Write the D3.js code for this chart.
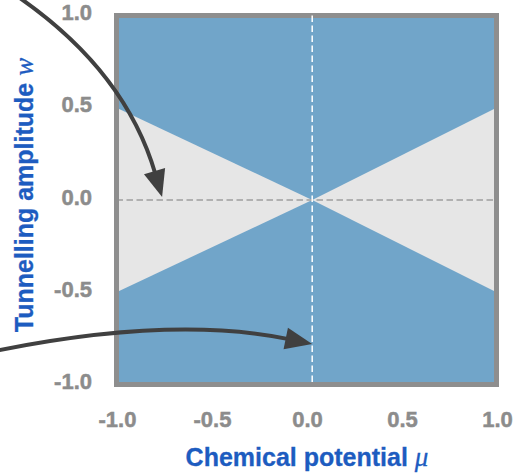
<!DOCTYPE html>
<html>
<head>
<meta charset="utf-8">
<script src="https://cdn.jsdelivr.net/npm/d3@7"></script>
<style>
    body { margin: 0; background: #fff; }
    .tick-label { font-family: "Liberation Sans", Arial, sans-serif; font-weight: 700; font-size: 22px; fill: #8c8c8c; stroke: #8c8c8c; stroke-width: 0.5px; }
    .axis-title { font-family: "Liberation Sans", Arial, sans-serif; font-weight: 700; font-size: 25px; fill: #1d5cc0; stroke: #1d5cc0; stroke-width: 0.3px; }
    .math { font-family: "Liberation Serif", serif; font-style: italic; font-weight: 400; font-size: 27px; }
</style>
</head>
<body>
<svg id="chart" width="513" height="473"></svg>
<script>
// phase diagram values
const xTicks = [-1, -0.5, 0, 0.5, 1]
const yTicks = [-1, -0.5, 0, 0.5, 1]
const crossing = [0.03, 0]
const leftWedge = [[-1, 0.5], [0.03, 0], [-1, -0.5]]
const rightWedge = [[1, 0.5], [0.03, 0], [1, -0.5]]
// annotation arrows: start, control, tip (data coords)
const arrowTop = [[-1.53, 1.11], [-0.955, 0.705], [-0.76, 0.016]]
const arrowBottom = [[-1.665, -0.824], [-0.718, -0.623], [0.03, -0.78]]

const svg = d3.select("#chart")
const fmt = v => d3.format(".1f")(v).replace("\u2212", "-")

const x = d3.scaleLinear().domain([-1, 1]).range([116.5, 496.5])
const y = d3.scaleLinear().domain([-1, 1]).range([384.5, 15.5])

const blue = "#71a5c9"
const grey = "#e6e6e6"

svg.append("rect")
    .attr("x", x(-1)).attr("y", y(1))
    .attr("width", x(1) - x(-1)).attr("height", y(-1) - y(1))
    .attr("fill", blue)

const line = d3.line().x(d => x(d[0])).y(d => y(d[1]))
svg.selectAll("path.wedge")
    .data([leftWedge, rightWedge])
    .enter().append("path")
    .attr("class", "wedge")
    .attr("d", d => line(d) + "Z")
    .attr("fill", grey)

// horizontal guide
svg.append("line")
    .attr("x1", x(-1)).attr("x2", x(1))
    .attr("y1", y(crossing[1])).attr("y2", y(crossing[1]))
    .attr("stroke", "#9e9e9e").attr("stroke-width", 1.5)
    .attr("stroke-dasharray", "6.5,3.5")

// frame
svg.append("rect")
    .attr("x", x(-1)).attr("y", y(1))
    .attr("width", x(1) - x(-1)).attr("height", y(-1) - y(1))
    .attr("fill", "none")
    .attr("stroke", "#8e8e8e").attr("stroke-width", 5)

// vertical guide
svg.append("line")
    .attr("x1", x(crossing[0])).attr("x2", x(crossing[0]))
    .attr("y1", y(1)).attr("y2", y(-1))
    .attr("stroke", "#fff").attr("stroke-width", 1.5)
    .attr("stroke-dasharray", "6.5,3.5")

// tick labels
svg.selectAll("text.xt")
    .data(xTicks)
    .enter().append("text")
    .attr("class", "tick-label xt")
    .attr("x", d => x(d) + 1)
    .attr("y", 427)
    .attr("text-anchor", "middle")
    .text(fmt)

svg.selectAll("text.yt")
    .data(yTicks)
    .enter().append("text")
    .attr("class", "tick-label yt")
    .attr("x", 92)
    .attr("y", d => y(d) + 4.5)
    .attr("text-anchor", "end")
    .text(fmt)

// axis titles
const xt = svg.append("text")
    .attr("class", "axis-title")
    .attr("x", 307).attr("y", 466)
    .attr("text-anchor", "middle")
xt.append("tspan").text("Chemical potential ")
xt.append("tspan").attr("class", "math").text("\u03bc")

const yt = svg.append("text")
    .attr("class", "axis-title")
    .attr("transform", "translate(33,195) rotate(-90)")
    .attr("text-anchor", "middle")
yt.append("tspan").text("Tunnelling amplitude ")
yt.append("tspan").attr("class", "math").text("w")

// arrows
function drawArrow(pts) {
    const p = pts.map(d => [x(d[0]), y(d[1])])
    const [s, c, t] = p
    const dx = t[0] - c[0], dy = t[1] - c[1]
    const len = Math.hypot(dx, dy)
    const ux = dx / len, uy = dy / len
    const headL = 27, headW = 11
    const b = [t[0] - ux * headL, t[1] - uy * headL]
    const path = d3.path()
    path.moveTo(s[0], s[1])
    path.quadraticCurveTo(c[0], c[1], b[0] + ux * 3, b[1] + uy * 3)
    svg.append("path")
        .attr("d", path.toString())
        .attr("fill", "none")
        .attr("stroke", "#404040")
        .attr("stroke-width", 4)
    svg.append("path")
        .attr("d", `M${t[0]},${t[1]}L${b[0] - uy * headW},${b[1] + ux * headW}L${b[0] + uy * headW},${b[1] - ux * headW}Z`)
        .attr("fill", "#404040")
}
drawArrow(arrowTop)
drawArrow(arrowBottom)
</script>
</body>
</html>
